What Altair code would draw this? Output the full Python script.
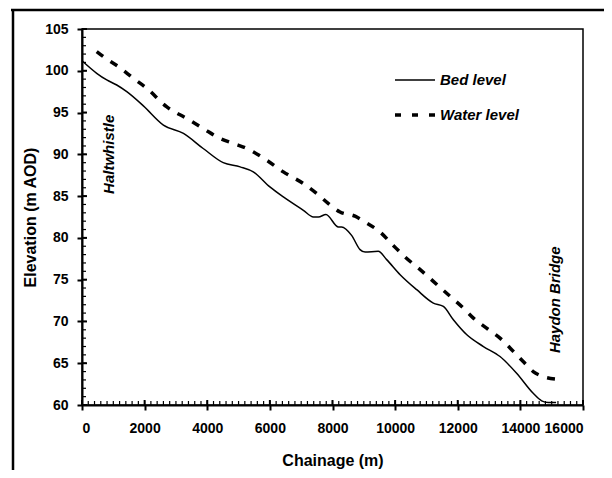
import altair as alt
import pandas as pd

# ---- data ----
bed_x = [0, 470, 790, 1110, 1430, 1960, 2600, 3240, 3870, 4510, 5050, 5470, 6000, 6430,
         7070, 7390, 7550, 7790, 8190, 8290, 8610, 8880, 9040, 9460, 9730, 10160, 10690,
         11220, 11540, 11860, 12290, 12820, 13350, 13880, 14410, 14680, 14890, 15140]
bed_y = [101.2, 99.7, 98.9, 98.3, 97.5, 95.8, 93.5, 92.5, 90.7, 89.0, 88.5, 87.9, 86.1, 84.9,
         83.3, 82.5, 82.5, 82.8, 81.3, 81.3, 80.3, 78.6, 78.3, 78.4, 77.4, 75.6, 73.8,
         72.2, 71.8, 70.2, 68.4, 67.0, 65.8, 63.8, 61.4, 60.5, 60.3, 60.3]

water_x = [470, 790, 1160, 1640, 2070, 2700, 3340, 3870, 4410, 4830, 5260, 5900, 6430, 7070,
           7500, 7870, 8240, 8720, 9040, 9520, 9940, 10320, 10800, 11220, 11700, 12180,
           12500, 12920, 13350, 13780, 14090, 14410, 14730, 15160]
water_y = [102.3, 101.4, 100.5, 99.1, 97.9, 95.7, 94.3, 93.1, 91.9, 91.3, 90.7, 89.3, 87.9, 86.5,
           85.3, 84.1, 83.1, 82.6, 81.9, 80.7, 79.1, 77.7, 76.2, 74.8, 73.2, 71.6,
           70.4, 69.2, 68.0, 66.4, 65.2, 64.0, 63.4, 63.1]

series_names = ["Bed level", "Water level"]

ann_text = ["Haltwhistle", "Haydon Bridge"]
ann_x = [870, 15110]
ann_y = [90.0, 72.6]

x_ticks = [0, 2000, 4000, 6000, 8000, 10000, 12000, 14000, 16000]
y_ticks = [60, 65, 70, 75, 80, 85, 90, 95, 100, 105]
x_minor = list(range(0, 16001, 200))
y_minor = list(range(60, 106, 1))

W, H = 501, 376
FONT = "Liberation Sans"

xs = alt.Scale(domain=[0, 16000], nice=False, zero=False)
ys = alt.Scale(domain=[60, 105], nice=False, zero=False)

xax = alt.Axis(values=x_ticks, format="d", title="Chainage (m)", labelPadding=11, titlePadding=17)
yax = alt.Axis(values=y_ticks, title="Elevation (m AOD)", labelPadding=9, titlePadding=6)

bed = alt.Chart(pd.DataFrame({"x": bed_x, "y": bed_y})).mark_line(
    interpolate="monotone", color="black", strokeWidth=1.5
).encode(x=alt.X("x:Q", scale=xs, axis=xax), y=alt.Y("y:Q", scale=ys, axis=yax))

water = alt.Chart(pd.DataFrame({"x": water_x, "y": water_y})).mark_line(
    interpolate="monotone", color="black", strokeWidth=3.5, strokeDash=[8, 9], strokeCap="butt"
).encode(x=alt.X("x:Q", scale=xs), y=alt.Y("y:Q", scale=ys))

ann = alt.Chart(pd.DataFrame({"t": ann_text, "x": ann_x, "y": ann_y})).mark_text(
    angle=270, align="center", baseline="middle", font=FONT, fontSize=15,
    fontStyle="italic", fontWeight="bold", color="black"
).encode(x=alt.X("x:Q", scale=xs), y=alt.Y("y:Q", scale=ys), text="t:N")

# legend (drawn by hand inside the plot, as in the reference)
leg_bed_line = alt.Chart(pd.DataFrame({"a": [0]})).mark_rule(color="black", strokeWidth=1.5).encode(
    x=alt.value(313), x2=alt.value(353), y=alt.value(51))
leg_water_line = alt.Chart(pd.DataFrame({"a": [0]})).mark_rule(
    color="black", strokeWidth=3.5, strokeDash=[6, 11], strokeCap="butt").encode(
    x=alt.value(313), x2=alt.value(353), y=alt.value(86))
text_style = dict(align="left", baseline="middle", font=FONT, fontSize=15, fontStyle="italic",
                  fontWeight="bold", color="black")
leg_text_bed = alt.Chart(pd.DataFrame({"t": [series_names[0]]})).mark_text(**text_style).encode(
    text="t:N", x=alt.value(358), y=alt.value(51))
leg_text_water = alt.Chart(pd.DataFrame({"t": [series_names[1]]})).mark_text(**text_style).encode(
    text="t:N", x=alt.value(358), y=alt.value(86))

xminor = alt.Chart(pd.DataFrame({"v": x_minor})).mark_rule(color="black", strokeWidth=1.2).encode(
    x=alt.X("v:Q", scale=xs), y=alt.value(H), y2=alt.value(H - 4))
yminor = alt.Chart(pd.DataFrame({"v": y_minor})).mark_rule(color="black", strokeWidth=1.2).encode(
    y=alt.Y("v:Q", scale=ys), x=alt.value(0), x2=alt.value(4))
xmaj = alt.Chart(pd.DataFrame({"v": x_ticks})).mark_rule(color="black", strokeWidth=2).encode(
    x=alt.X("v:Q", scale=xs), y=alt.value(H), y2=alt.value(H - 5))
ymaj = alt.Chart(pd.DataFrame({"v": y_ticks})).mark_rule(color="black", strokeWidth=2).encode(
    y=alt.Y("v:Q", scale=ys), x=alt.value(0), x2=alt.value(5))

frame_top = alt.Chart(pd.DataFrame({"a": [0]})).mark_rule(color="black", strokeWidth=2.5).encode(
    x=alt.value(-71), x2=alt.value(560), y=alt.value(-19))
frame_left = alt.Chart(pd.DataFrame({"a": [0]})).mark_rule(color="black", strokeWidth=2.5).encode(
    x=alt.value(-69), y=alt.value(-20), y2=alt.value(480))

chart = alt.layer(frame_top, frame_left, xminor, yminor, xmaj, ymaj, bed, water, ann,
                  leg_bed_line, leg_water_line, leg_text_bed, leg_text_water).properties(
    width=W, height=H,
    autosize=alt.AutoSizeParams(type="none"),
    padding={"left": 74, "top": 21, "right": 21, "bottom": 65},
).configure_view(stroke="black", strokeWidth=1.5).configure_axis(
    grid=False, domainColor="black", domainWidth=2, tickColor="black", tickWidth=2, tickSize=5,
    labelFont=FONT, labelFontSize=14, labelFontWeight="bold", labelColor="black",
    titleFont=FONT, titleFontSize=16, titleFontWeight="bold", titleColor="black",
)

chart.save("out.html", embed_options={"renderer": "svg", "actions": False})
